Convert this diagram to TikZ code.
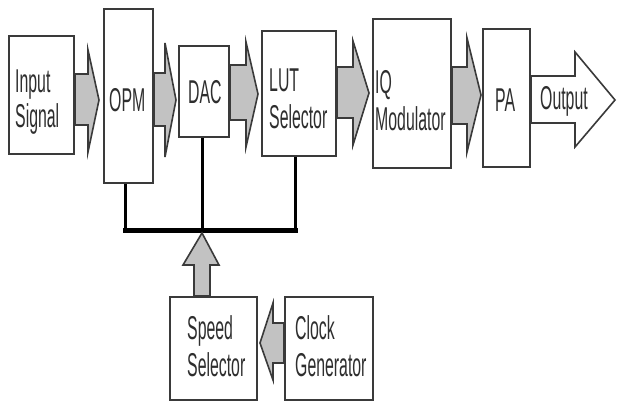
\documentclass[tikz,border=0pt]{standalone}
\usepackage{fontspec}
\newfontfamily\diagfont[FakeStretch=0.48]{Liberation Sans}
\usetikzlibrary{calc}
\definecolor{edge}{HTML}{3A3A3A}
\definecolor{fatfill}{HTML}{C2C2C2}
\definecolor{txt}{HTML}{2E2E2E}
% horizontal fat arrow: from, to, shaft length, tip gap, centre y, shaft top, shaft bottom, head top, head bottom
\newcommand\hfat[9]{%
  \draw[fat] (#1.east |- 0,#6) -- ++(#3,0) coordinate (s1)
    -- (s1 |- 0,#8) -- ($(#2.west |- 0,#5)+(-#4,0)$)
    -- (s1 |- 0,#9) -- (s1 |- 0,#7) -- (#1.east |- 0,#7) -- cycle;}
\newcommand\boxat[5]{%
  \node[box, minimum width={(#4-#2)*1pt}, minimum height={(#5-#3)*1pt}] (#1) at ({(#2+#4)/2},{(#3+#5)/2}) {};}
\begin{document}
\begin{tikzpicture}[x=1pt,y=-1pt,
  box/.style={draw=edge, line width=2pt, fill=white, inner sep=0pt},
  lbl/.style={font=\diagfont\fontsize{33}{36}\selectfont, text=txt, anchor=base west, inner sep=0pt},
  fat/.style={draw=edge, line width=1.6pt, fill=fatfill, line join=miter},
  outfat/.style={fat, fill=white},
  busline/.style={line width=3pt, black},
  busbar/.style={line width=5pt, black, line cap=rect}]
\useasboundingbox[fill=white] (0,0) rectangle (617,403);

% bus
\coordinate (busL) at (125,230);
\coordinate (busM) at (202,230);
\coordinate (busR) at (295,230);

% boxes
\boxat{in}{9}{36}{74}{154}
\boxat{opm}{104}{9}{153}{183}
\boxat{dac}{179}{46}{229}{137}
\boxat{lut}{262}{31}{336}{156}
\boxat{iq}{373}{19}{451}{168}
\boxat{pa}{483}{29}{530}{167}
\boxat{spd}{170}{297}{257}{400}
\boxat{clk}{285}{297}{373}{400}

% bus lines
\draw[busline] (opm.south -| busL) -- (busL);
\draw[busline] (dac.south -| busM) -- (busM);
\draw[busline] (lut.south -| busR) -- (busR);
\draw[busbar] (busL) -- (busR);

% fat arrows along the chain
\hfat{in}{opm}{13}{4}{100}{74}{125}{50}{152}
\hfat{opm}{dac}{11}{2}{100}{73}{126}{43}{157}
\hfat{dac}{lut}{16}{3}{94}{65}{120}{42}{147}
\hfat{lut}{iq}{16}{3}{93}{67}{118}{41}{145}
\hfat{iq}{pa}{15}{1}{95}{67}{124}{38}{152}

% output arrow
\coordinate (outtip) at (615,100);
\draw[outfat] (pa.east |- 0,76) -- ++(44,0) coordinate (s2)
  -- (s2 |- 0,52) -- (outtip) -- (s2 |- 0,147) -- (s2 |- 0,123)
  -- (pa.east |- 0,123) -- cycle;

% speed selector up to bus
\draw[fat] (spd.north -| 194,0) -- (194,265) -- (183,265) -- ($(busM)+(0,3)$)
  -- (219,265) -- (210,265) -- (spd.north -| 210,0) -- cycle;

% clock generator to speed selector
\draw[fat] (clk.west |- 0,323) -- (273,323) -- (273,303) -- ($(spd.east |- 0,343)+(2,0)$)
  -- (273,380) -- (273,363) -- (clk.west |- 0,363) -- cycle;

% labels
\node[lbl] (inA) at (15,93) {Input};
\node[lbl] (inB) at (15,128) {Signal};
\node[lbl] (opmA) at (109,112) {OPM};
\node[lbl] (dacA) at (188,104) {DAC};
\node[lbl] (lutA) at (269,92) {LUT};
\node[lbl] (lutB) at (269,129) {Selector};
\node[lbl] (iqA) at (375,94) {IQ};
\node[lbl] (iqB) at (375,131) {Modulator};
\node[lbl] (paA) at (495,112) {PA};
\node[lbl] (outA) at (540,110) {Output};
\node[lbl] (spdA) at (187,339) {Speed};
\node[lbl] (spdB) at (187,376) {Selector};
\node[lbl] (clkA) at (295,339) {Clock};
\node[lbl] (clkB) at (295,376) {Generator};
\end{tikzpicture}
\end{document}
